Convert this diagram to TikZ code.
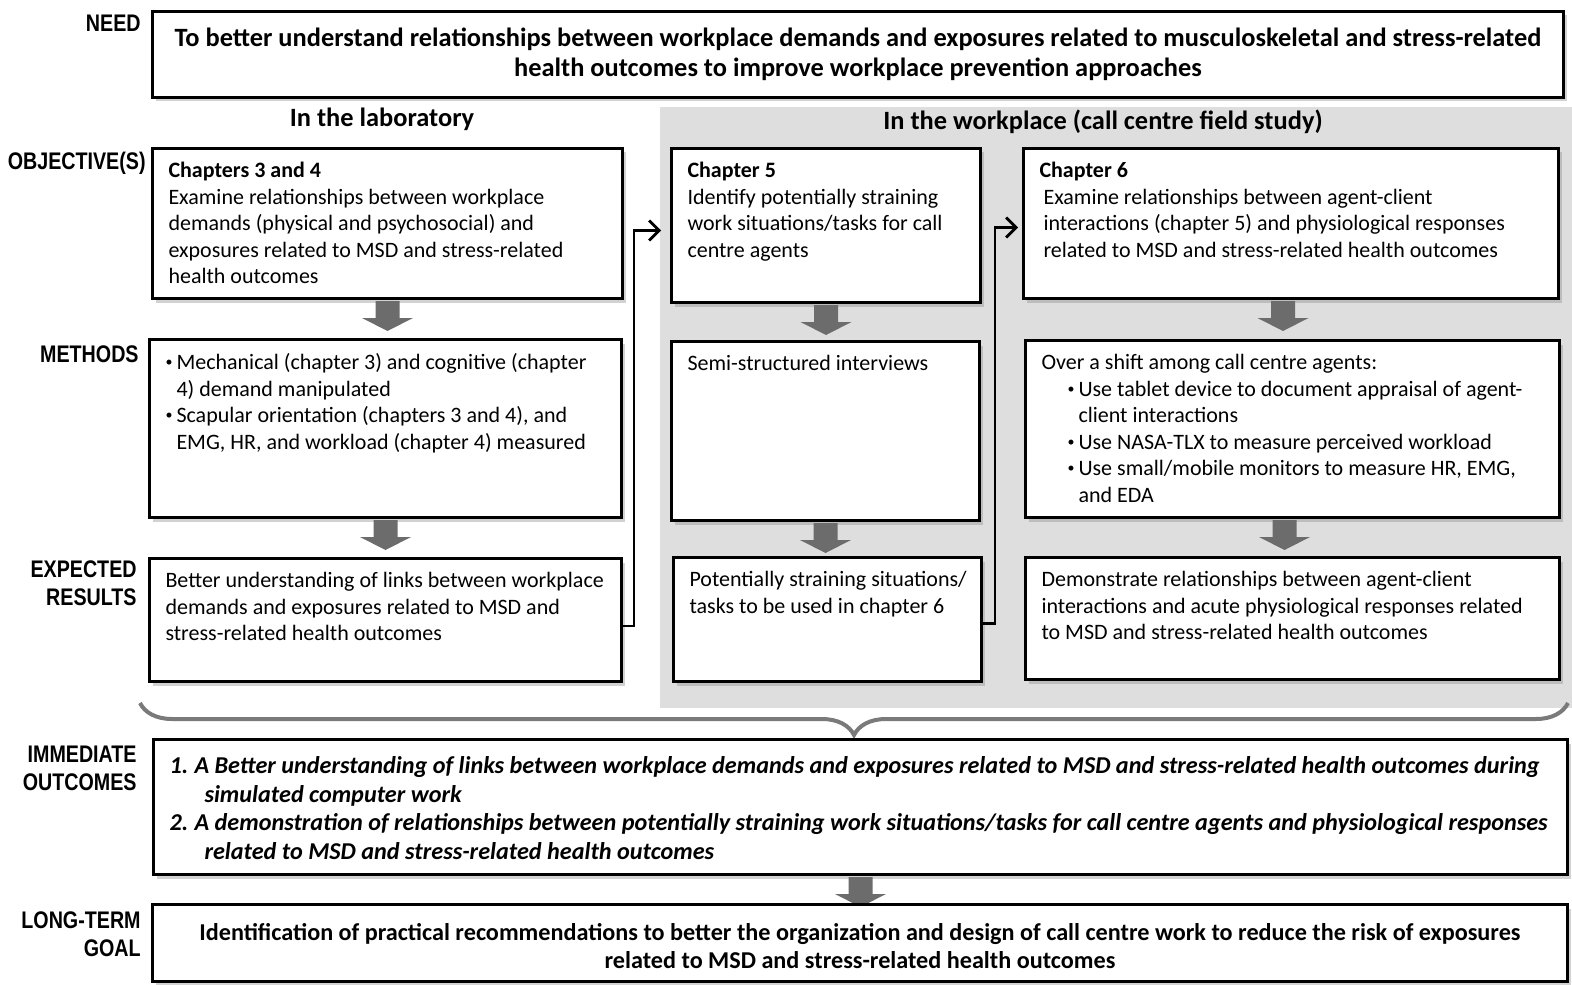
\documentclass[tikz,border=0pt]{standalone}
\usepackage{fontspec}
\setmainfont{Carlito}
\newfontfamily\labelfont[FakeStretch=0.82]{Liberation Sans}
\usetikzlibrary{shadows}
\usetikzlibrary{arrows.meta}
\usetikzlibrary{decorations.pathreplacing}
\definecolor{panelgray}{RGB}{222,222,222}
\definecolor{arrowgray}{RGB}{108,108,108}
\definecolor{bracegray}{RGB}{122,122,122}
\newlength\px
\setlength\px{0.5pt}
% text block inside a box, sizes in pixels of the box
\newcommand{\cell}[3]{\parbox[t][\dimexpr#2\px-14pt\relax][t]{\dimexpr#1\px-16pt\relax}{\raggedright #3}}
\newcommand{\itm}[2][0pt]{\par\hangindent=\dimexpr#1+5.5pt\relax\hangafter=1\hspace*{#1}%
  \makebox[5.5pt][l]{\raisebox{0.3ex}{\fontsize{7}{7}\selectfont\textbullet}}#2}
\newcommand{\outitem}[2]{\par\hangindent=17.5pt\hangafter=1\makebox[12.5pt][l]{#1}#2}
\tikzset{
  box/.style={draw,line width=1.5pt,fill=white,anchor=north west,
    inner xsep=8pt,inner ysep=7pt,font=\fontsize{11}{13.25}\selectfont,
    drop shadow={shadow xshift=1.5pt,shadow yshift=-2pt,opacity=0.35}},
  cbox/.style={box,align=center,inner sep=0pt,font=\fontsize{13.2}{15}\selectfont\bfseries},
  lbl/.style={font=\labelfont\bfseries\fontsize{12}{14}\selectfont,align=right,
    anchor=north east,inner sep=0pt},
  head/.style={font=\fontsize{13.2}{15}\selectfont\bfseries,inner sep=0pt,anchor=base},
  link/.style={line width=1.4pt,-{Straight Barb[length=5pt,width=10pt,line width=1.4pt]}},
  bigbrace/.style={decorate,decoration={brace,mirror,amplitude=16pt},
    line width=2pt,draw=bracegray},
  downarrow/.pic={\fill[arrowgray] (-6pt,0) -- (6pt,0) -- (6pt,-8.5pt) -- (12.75pt,-8.5pt)
    -- (0,-15pt) -- (-12.75pt,-8.5pt) -- (-6pt,-8.5pt) -- cycle;}
}
\begin{document}
\begin{tikzpicture}[x=0.5pt,y=-0.5pt]
  \fill[white] (0,0) rectangle (1572,984);
  \useasboundingbox (0,0) rectangle (1572,984);
  % field study background
  \fill[panelgray] (660,107) rectangle (1572,708);

  % row labels
  \node[lbl] (needlbl) at (141,15) {NEED};
  \node[lbl] (objlbl) at (146,152) {OBJECTIVE(S)};
  \node[lbl] (metlbl) at (139,345) {METHODS};
  \node[lbl] (reslbl) at (137,560) {EXPECTED\\RESULTS};
  \node[lbl] (immlbl) at (137,746) {IMMEDIATE\\OUTCOMES};
  \node[lbl] (goallbl) at (141,911) {LONG-TERM\\GOAL};

  % need
  \node[cbox,minimum width=705.5pt,minimum height=43pt] (need) at (151,10)
    {To better understand relationships between workplace demands and exposures related to musculoskeletal and stress-related\\
     health outcomes to improve workplace prevention approaches};

  \node[head] (lab) at (382,127) {In the laboratory};
  \node[head] (field) at (1103,130) {In the workplace (call centre field study)};

  % objectives
  \node[box] (obj1) at (151,147) {\cell{470}{150}{\textbf{Chapters 3 and 4}\\
    Examine relationships between workplace\\
    demands (physical and psychosocial) and\\
    exposures related to MSD and stress-related\\
    health outcomes}};
  \node[box] (obj2) at (670,147) {\cell{309}{154}{\textbf{Chapter 5}\\
    Identify potentially straining\\
    work situations/tasks for call\\
    centre agents}};
  \node[box] (obj3) at (1022,147) {\cell{535}{150}{\textbf{Chapter 6}\par\leftskip=2pt
    Examine relationships between agent-client\\
    interactions (chapter 5) and physiological responses\\
    related to MSD and stress-related health outcomes}};

  % methods
  \node[box] (met1) at (148,338) {\cell{472}{178}{%
    \itm{Mechanical (chapter 3) and cognitive (chapter\break 4) demand manipulated}
    \itm{Scapular orientation (chapters 3 and 4), and\break EMG, HR, and workload (chapter 4) measured}}};
  \node[box] (met2) at (670,340) {\cell{308}{179}{Semi-structured interviews}};
  \node[box] (met3) at (1024,339) {\cell{534}{177}{Over a shift among call centre agents:
    \itm[13pt]{Use tablet device to document appraisal of agent-\break client interactions}
    \itm[13pt]{Use NASA-TLX to measure perceived workload}
    \itm[13pt]{Use small/mobile monitors to measure HR, EMG,\break and EDA}}};

  % expected results
  \node[box] (res1) at (148,557) {\cell{472}{123}{Better understanding of links between workplace\\
    demands and exposures related to MSD and\\
    stress-related health outcomes}};
  \node[box] (res2) at (672,556) {\cell{308}{124}{\mbox{Potentially straining situations/}\\
    tasks to be used in chapter 6}};
  \node[box] (res3) at (1024,556) {\cell{534}{122}{Demonstrate relationships between agent-client\\
    interactions and acute physiological responses related\\
    to MSD and stress-related health outcomes}};

  % block arrows
  \pic at ([yshift=-0.5pt]obj1.south) {downarrow};
  \pic at ([yshift=-0.5pt]obj2.south) {downarrow};
  \pic at ([xshift=-4pt,yshift=-0.5pt]obj3.south) {downarrow};
  \pic at ([yshift=-0.5pt]met1.south) {downarrow};
  \pic at ([yshift=-0.5pt]met2.south) {downarrow};
  \pic at ([xshift=-4pt,yshift=-0.5pt]met3.south) {downarrow};

  % links to the next study
  \draw[link] ([yshift=-3pt]res1.east) -- ++(5.5pt,0) |- ([xshift=-4.5pt,yshift=-2.5pt]obj2.west);
  \draw[link] ([yshift=-2pt]res2.east) -- ++(6pt,0) |- ([xshift=-2pt,yshift=-2pt]obj3.west);

  % brace
  \coordinate (bl) at (140,703);
  \coordinate (br) at (1568,703);
  \draw[bigbrace] (bl) -- (br);

  % outcomes
  \node[box] (imm) at (152,738) {\cell{1414}{135}{\fontsize{12.1}{14.3}\selectfont\bfseries\itshape
    \vspace*{1.5pt}%
    \outitem{1.}{A Better understanding of links between workplace demands and exposures related to MSD and stress-related health outcomes during\break simulated computer work}
    \outitem{2.}{A demonstration of relationships between potentially straining work situations/tasks for call centre agents and physiological responses\break related to MSD and stress-related health outcomes}}};
  \pic at ([yshift=-0.5pt]imm.south) {downarrow};

  % goal
  \node[cbox,minimum width=707.5pt,minimum height=38.5pt,font=\fontsize{12.1}{14}\selectfont\bfseries] (goal) at (151,903)
    {\rule{0pt}{12pt}Identification of practical recommendations to better the organization and design of call centre work to reduce the risk of exposures\\
     related to MSD and stress-related health outcomes};
\end{tikzpicture}
\end{document}
